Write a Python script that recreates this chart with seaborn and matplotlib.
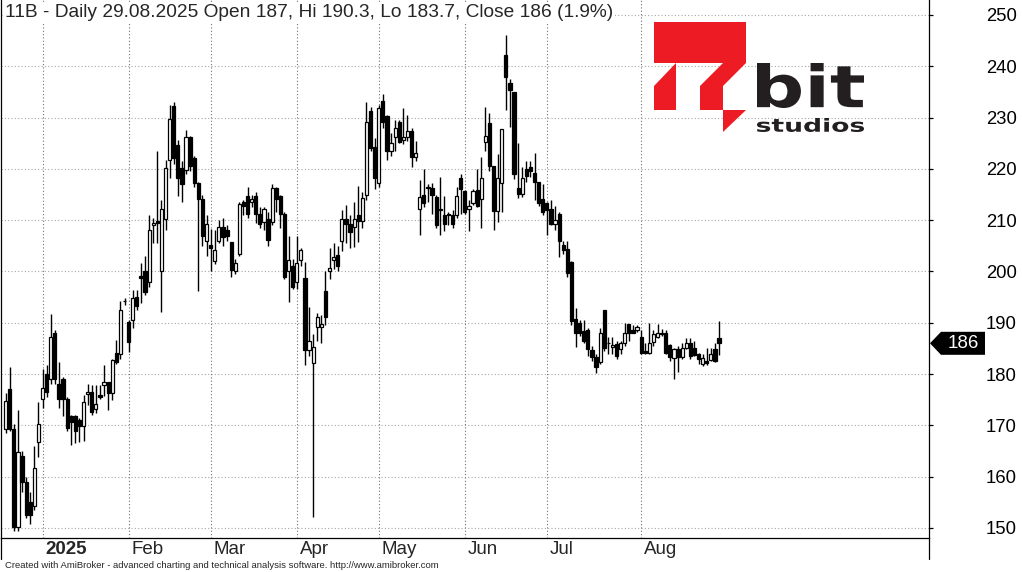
import matplotlib.pyplot as plt
import seaborn as sns
import pandas as pd
import numpy as np
from matplotlib.path import Path
from matplotlib.patches import PathPatch, Polygon
from matplotlib.textpath import TextPath
from matplotlib.font_manager import FontProperties
from matplotlib.lines import Line2D

# --- data ---
ticker = "11B"
start_date = "2024-12-13"
end_date = "2025-08-29"
holidays = ["2024-12-24", "2024-12-25", "2024-12-26", "2024-12-31", "2025-01-01",
            "2025-01-06", "2025-04-18", "2025-04-21", "2025-05-01", "2025-06-19",
            "2025-08-15"]

opens = [
    169.2, 177.1, 169.2, 150.1, 164.0, 159.0, 155.0, 154.3, 166.8, 175.1,
    180.0, 179.0, 188.1, 178.0, 179.0, 175.1, 171.9, 171.9, 171.0, 169.9,
    176.1, 176.6, 173.2, 176.0, 177.9, 178.5, 176.3, 184.2, 183.9, 194.3,
    190.1, 190.5, 195.1, 199.2, 200.0, 198.0, 209.0, 209.8, 200.0, 210.2,
    221.7, 232.3, 224.7, 220.1, 219.8, 226.2, 222.1, 217.2, 214.1, 206.0,
    205.2, 202.1, 206.0, 208.6, 208.1, 205.7, 200.1, 203.5, 213.6, 214.7,
    213.6, 214.7, 211.2, 209.7, 210.2, 209.7, 216.2, 214.7, 211.2, 200.1,
    201.0, 198.0, 202.2, 198.7, 184.6, 182.1, 189.1, 189.1, 196.2, 200.0,
    202.2, 203.2, 206.0, 210.2, 209.3, 208.7, 211.0, 209.9, 215.0, 231.2,
    224.2, 217.2, 233.2, 230.3, 223.4, 226.2, 229.1, 225.6, 226.3, 227.3,
    222.3, 212.1, 214.9, 216.3, 216.2, 214.5, 212.0, 211.1, 211.2, 211.0,
    211.0, 218.2, 215.7, 212.1, 213.4, 215.9, 214.1, 225.2, 228.9, 220.6,
    211.7, 217.2, 242.2, 236.7, 234.9, 216.2, 215.1, 219.9, 220.3, 219.2,
    217.5, 214.1, 213.4, 212.1, 209.3, 211.2, 205.2, 204.4, 201.8, 190.7,
    190.0, 188.4, 188.6, 184.7, 183.4, 182.3, 192.5, 186.1, 185.2, 185.9,
    184.9, 186.1, 189.8, 188.6, 188.5, 187.2, 184.5, 184.1, 186.3, 187.2,
    188.1, 188.1, 185.7, 183.1, 184.8, 183.4, 185.0, 186.0, 185.0, 184.0,
    182.0, 182.6, 182.7, 184.8, 187.0,
]
highs = [
    176.3, 181.4, 170.3, 173.0, 165.0, 160.0, 157.0, 166.0, 174.6, 181.0,
    181.8, 191.7, 188.5, 182.3, 179.5, 175.5, 172.0, 172.0, 171.5, 176.0,
    178.0, 177.8, 177.8, 177.8, 181.8, 178.5, 183.0, 186.6, 194.3, 194.8,
    190.5, 196.4, 196.4, 201.7, 203.0, 211.0, 210.5, 223.5, 213.9, 221.7,
    232.5, 233.0, 225.7, 221.5, 227.6, 226.5, 222.5, 217.5, 215.0, 211.0,
    208.3, 208.0, 210.0, 210.5, 209.0, 205.7, 202.5, 213.5, 214.0, 216.5,
    215.0, 215.5, 212.5, 212.5, 211.5, 217.0, 216.5, 215.0, 211.5, 207.0,
    202.5, 207.0, 204.5, 201.9, 193.0, 187.8, 192.0, 191.5, 200.0, 204.5,
    205.5, 205.0, 212.0, 213.0, 211.0, 213.5, 216.6, 215.5, 233.1, 232.0,
    226.0, 232.5, 234.6, 230.5, 227.0, 229.5, 229.5, 231.9, 230.5, 228.0,
    225.5, 217.8, 219.9, 217.0, 217.3, 215.0, 218.5, 214.7, 211.5, 212.0,
    216.5, 219.0, 215.8, 213.9, 216.0, 220.0, 222.4, 232.0, 230.8, 220.6,
    222.9, 227.7, 246.1, 237.6, 235.0, 225.0, 220.3, 221.5, 221.5, 223.1,
    217.5, 217.0, 213.5, 214.0, 212.8, 211.5, 206.0, 206.0, 202.0, 192.9,
    190.5, 190.5, 189.0, 185.5, 184.0, 189.0, 192.5, 187.2, 187.3, 186.5,
    186.5, 190.0, 189.8, 189.5, 189.5, 188.5, 186.0, 190.0, 188.5, 189.8,
    188.8, 188.5, 185.8, 185.0, 185.5, 186.0, 187.0, 187.0, 186.5, 184.2,
    184.0, 185.0, 185.0, 186.0, 190.3,
]
lows = [
    168.5, 169.0, 149.5, 149.5, 157.0, 152.0, 150.8, 153.5, 163.8, 173.4,
    175.6, 178.0, 178.0, 173.3, 171.9, 169.0, 166.2, 166.5, 166.8, 167.0,
    174.0, 172.0, 172.5, 175.2, 175.8, 173.0, 175.0, 182.0, 183.0, 193.5,
    184.3, 189.0, 192.5, 193.9, 195.5, 197.0, 205.5, 205.5, 192.2, 208.0,
    218.2, 221.0, 214.8, 213.5, 219.0, 219.5, 216.5, 196.1, 205.0, 203.0,
    200.0, 201.5, 205.5, 205.0, 206.0, 199.0, 199.5, 203.0, 211.0, 210.5,
    212.5, 209.5, 208.5, 208.0, 205.0, 209.0, 211.5, 208.5, 198.5, 194.0,
    196.5, 196.5, 201.0, 181.8, 183.5, 152.2, 186.5, 186.0, 189.5, 198.5,
    200.5, 200.0, 204.0, 205.5, 204.5, 204.8, 205.8, 208.5, 214.0, 223.4,
    216.0, 216.5, 228.0, 221.7, 222.5, 223.4, 225.0, 224.8, 225.5, 220.3,
    221.5, 207.1, 212.5, 213.5, 211.3, 208.5, 207.1, 207.8, 209.0, 208.5,
    210.5, 211.3, 211.2, 207.8, 213.0, 212.5, 208.4, 223.4, 219.5, 208.1,
    209.7, 211.5, 231.5, 228.2, 218.0, 214.3, 214.5, 217.5, 218.5, 214.0,
    212.7, 211.0, 207.1, 209.0, 208.0, 202.8, 203.5, 199.0, 189.5, 185.3,
    187.5, 186.0, 183.5, 182.5, 180.2, 182.0, 184.5, 183.9, 184.0, 183.0,
    184.0, 185.5, 186.5, 188.0, 188.2, 184.0, 184.0, 184.0, 185.5, 187.0,
    187.5, 184.0, 182.5, 179.1, 180.4, 183.0, 184.8, 183.0, 183.5, 182.0,
    181.5, 181.8, 182.5, 182.3, 183.7,
]
closes = [
    174.8, 169.2, 150.1, 164.8, 159.0, 152.5, 152.5, 161.7, 170.3, 177.3,
    176.6, 187.2, 179.0, 175.1, 175.1, 169.4, 170.6, 169.0, 169.9, 174.6,
    176.6, 172.7, 174.2, 175.6, 178.5, 176.3, 182.7, 182.4, 192.4, 194.2,
    186.2, 194.8, 193.3, 198.8, 196.0, 208.1, 209.4, 209.5, 212.1, 220.1,
    229.7, 222.1, 218.2, 217.0, 226.2, 220.6, 217.2, 214.1, 206.9, 209.2,
    204.5, 204.2, 208.6, 206.8, 206.9, 200.2, 201.6, 213.2, 212.8, 211.2,
    214.1, 211.2, 209.3, 212.1, 206.1, 216.2, 214.1, 211.2, 199.0, 202.2,
    197.0, 201.6, 204.2, 184.7, 186.5, 185.3, 191.2, 189.8, 191.1, 200.6,
    202.9, 201.0, 210.2, 209.3, 207.6, 210.2, 209.9, 214.3, 229.2, 224.1,
    218.2, 231.9, 229.1, 223.4, 225.0, 227.9, 225.2, 226.2, 227.3, 222.3,
    223.1, 214.6, 213.4, 216.5, 214.9, 209.1, 212.1, 209.3, 211.0, 209.3,
    214.7, 216.1, 211.5, 212.8, 215.7, 212.8, 218.2, 226.4, 220.6, 211.7,
    218.2, 227.7, 238.0, 235.3, 219.0, 215.1, 218.2, 218.6, 219.5, 217.5,
    213.4, 211.5, 212.0, 209.3, 210.0, 206.0, 204.2, 199.8, 190.4, 188.1,
    188.1, 186.5, 184.9, 183.4, 181.4, 188.1, 185.0, 186.0, 185.7, 183.6,
    186.1, 188.1, 188.1, 188.1, 189.1, 184.2, 184.1, 186.0, 187.8, 188.1,
    187.9, 184.1, 183.3, 184.8, 183.4, 185.0, 186.0, 183.6, 183.7, 182.9,
    183.1, 182.1, 184.0, 182.6, 186.0,
]
price_ticks = list(range(150, 251, 10))
footer = ("Created with AmiBroker - advanced charting and technical analysis software. "
          "http://www.amibroker.com")

# --- build frame ---
dates = pd.bdate_range(start_date, end_date)
dates = dates[~dates.isin(pd.to_datetime(holidays))]
df = pd.DataFrame({"date": dates, "open": opens, "high": highs,
                   "low": lows, "close": closes})
df["bar"] = np.arange(len(df))
df["up"] = df["close"] >= df["open"]

month_start = df.groupby(df["date"].dt.to_period("M"))["bar"].min().iloc[1:]
month_labels = ["2025" if p.month == 1 else p.strftime("%b") for p in month_start.index]

# --- style ---
W, H = 1022, 572
sns.set_style("white")
plt.rcParams["font.family"] = ["Liberation Sans", "DejaVu Sans"]

fig = plt.figure(figsize=(W / 100, H / 100), dpi=100)
ax = fig.add_axes([1 / W, 34 / H, 928 / W, 538 / H])
ax.set_xlim(-1.146, 225.2)
ax.set_ylim(148.05, 252.92)

# grid
for p in price_ticks:
    ax.axhline(p, color="#a8a8a8", lw=0.8, ls=(0, (1, 2)), zorder=0)
for m in month_start.values:
    ax.axvline(m, color="#707070", lw=0.8, ls=(0, (1, 2)), zorder=0)

# candles
ax.vlines(df["bar"], df["low"], df["high"], color="black", lw=1.0, zorder=2)
body_lo = df[["open", "close"]].min(axis=1)
body_h = (df["close"] - df["open"]).abs().clip(lower=0.12)
ax.bar(df["bar"], body_h, bottom=body_lo, width=0.78,
       color=np.where(df["up"], "white", "black"),
       edgecolor="black", linewidth=0.9, zorder=3)

# axes decoration
for side in ["left", "bottom", "right"]:
    ax.spines[side].set_color("black")
    ax.spines[side].set_linewidth(0.9)
ax.spines["top"].set_visible(False)
ax.yaxis.tick_right()
ax.set_yticks(price_ticks)
ax.set_yticklabels([str(p) for p in price_ticks])
ax.tick_params(axis="y", direction="out", length=3, width=0.9, pad=38,
               labelsize=13.3, colors="black")
ax.set_xticks(month_start.values)
ax.set_xticklabels([])
ax.tick_params(axis="x", direction="out", length=5, width=0.9, colors="black")
for m, lab in zip(month_start.values, month_labels):
    ax.annotate(lab, xy=(m, 0), xycoords=("data", "axes fraction"),
                xytext=(2.0, -8), textcoords="offset points", ha="left", va="center",
                fontsize=13.5, fontweight="bold" if lab == "2025" else "normal")

# title
last = df.iloc[-1]
pct = (last["close"] / df["close"].iloc[-2] - 1) * 100
title = (f"{ticker} - Daily {last['date']:%d.%m.%Y} Open {last['open']:g}, "
         f"Hi {last['high']:g}, Lo {last['low']:g}, Close {last['close']:g} ({pct:.1f}%)")
fig.text(5 / W, 1 - 4 / H, title, ha="left", va="top", fontsize=13.8, zorder=4,
         bbox=dict(facecolor="white", edgecolor="none", pad=1.5))
fig.text(5 / W, 1 - 566 / H, footer, ha="left", va="center", fontsize=6.8)

# overlay in pixel coordinates for frame extensions, price tag and logo
ov = fig.add_axes([0, 0, 1, 1], zorder=5)
ov.set_xlim(0, W)
ov.set_ylim(H, 0)
ov.axis("off")
ov.patch.set_alpha(0)
ov.add_line(Line2D([929, 929], [538, 559], color="black", lw=0.9))
ov.add_line(Line2D([1, 1], [538, 559], color="black", lw=0.9))

yc = H - ax.transData.transform((0, last["close"]))[1]
ov.add_patch(Polygon([(930, yc), (941, yc - 11.5), (985, yc - 11.5),
                      (985, yc + 11.5), (941, yc + 11.5)],
                     closed=True, facecolor="black", edgecolor="none"))
ov.text(963, yc, f"{last['close']:g}", color="white", fontsize=13.5,
        ha="center", va="center")

# 1bit studios logo
red = "#ED1C24"
x0, x1, x2, x3, x4 = 654, 676, 700, 723, 746
y0, y1, y2, y3, y4 = 22, 63, 86, 110, 132
for poly in [
    [(x0, y0), (x4, y0), (x4, y1), (x0, y1)],
    [(x0, y2), (x1, y1), (x1, y3), (x0, y3)],
    [(x2, y2), (x3, y1), (x4, y1), (x3, y2), (x3, y3), (x2, y3)],
    [(x3, y3), (x4, y3), (x3, y4)],
]:
    ov.add_patch(Polygon(poly, closed=True, facecolor=red, edgecolor="none"))


def fit_text(s, box, color):
    tp = TextPath((0, 0), s, size=10,
                  prop=FontProperties(family="DejaVu Sans", weight="bold"))
    ext = tp.get_extents()
    v = tp.vertices.copy()
    bx0, by0, bx1, by1 = box
    v[:, 0] = bx0 + (v[:, 0] - ext.x0) / ext.width * (bx1 - bx0)
    v[:, 1] = by1 - (v[:, 1] - ext.y0) / ext.height * (by1 - by0)
    ov.add_patch(PathPatch(Path(v, tp.codes), facecolor=color, edgecolor="none"))


fit_text("bit", (757, 63, 864, 108), "#231F20")
fit_text("studios", (757, 118, 864, 132), "#231F20")

fig.savefig("out.png", dpi=100)
plt.close(fig)
